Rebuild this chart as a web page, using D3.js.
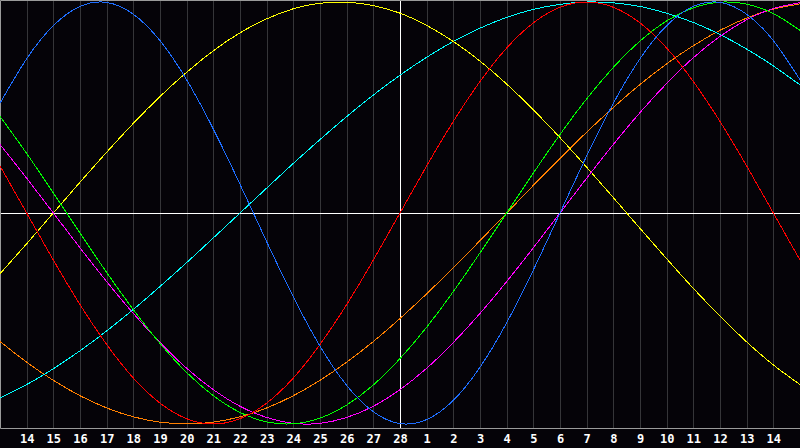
<!DOCTYPE html>
<html>
<head>
<meta charset="utf-8">
<script src="https://cdn.jsdelivr.net/npm/d3@7"></script>
<style>
    html, body { margin: 0; padding: 0; background: #050308; overflow: hidden; }
    #chart-container { width: 800px; height: 448px; }
</style>
</head>
<body>
<div id="chart-container"></div>
<script>
// Day labels under the grid lines (Feb 14 .. Mar 14)
const dayLabels = ["14", "15", "16", "17", "18", "19", "20", "21", "22", "23", "24", "25", "26", "27", "28",
    "1", "2", "3", "4", "5", "6", "7", "8", "9", "10", "11", "12", "13", "14"];

// Curve values per day (-100 .. 100), day 0 .. 30
const physical = [52.0, 73.1, 88.8, 97.9, 99.8, 94.2, 81.7, 63.1, 39.8, 13.6, -13.6, -39.8, -63.1, -81.7, -94.2,
    -99.8, -97.9, -88.8, -73.1, -52.0, -27.0, 0, 27.0, 52.0, 73.1, 88.8, 97.9, 99.8, 94.2, 81.7, 63.1];
const emotional = [22.3, 0, -22.3, -43.4, -62.3, -78.2, -90.1, -97.5, -100, -97.5, -90.1, -78.2, -62.3, -43.4, -22.3,
    0, 22.3, 43.4, 62.3, 78.2, 90.1, 97.5, 100, 97.5, 90.1, 78.2, 62.3, 43.4, 22.3, 0, -22.3];
const intellectual = [45.8, 28.2, 9.5, -9.5, -28.2, -45.8, -61.8, -75.6, -86.6, -94.5, -99.0, -99.9, -97.2, -91.0, -81.5,
    -69.0, -54.1, -37.2, -18.9, 0, 18.9, 37.2, 54.1, 69.0, 81.5, 91.0, 97.2, 99.9, 99.0, 94.5, 86.6];
const intuitive = [32.5, 16.5, 0, -16.5, -32.5, -47.6, -61.4, -73.6, -83.7, -91.6, -96.9, -99.7, -99.7, -96.9, -91.6,
    -83.7, -73.6, -61.4, -47.6, -32.5, -16.5, 0, 16.5, 32.5, 47.6, 61.4, 73.6, 83.7, 91.6, 96.9, 99.7];
const aesthetic = [-28.8, -14.6, 0, 14.6, 28.8, 42.5, 55.2, 66.7, 76.9, 85.4, 92.0, 96.8, 99.4, 99.9, 98.3,
    94.7, 88.9, 81.3, 72.0, 61.1, 48.9, 35.7, 21.7, 7.3, -7.3, -21.7, -35.7, -48.9, -61.1, -72.0, -81.3];
const awareness = [-60.9, -70.7, -79.3, -86.6, -92.4, -96.6, -99.1, -100, -99.1, -96.6, -92.4, -86.6, -79.3, -70.7, -60.9,
    -50.0, -38.3, -25.9, -13.1, 0, 13.1, 25.9, 38.3, 50.0, 60.9, 70.7, 79.3, 86.6, 92.4, 96.6, 99.1];
const spiritual = [-87.6, -81.3, -73.8, -65.3, -55.9, -45.7, -34.8, -23.5, -11.8, 0, 11.8, 23.5, 34.8, 45.7, 55.9,
    65.3, 73.8, 81.3, 87.6, 92.7, 96.5, 98.9, 100, 99.6, 97.9, 94.7, 90.3, 84.6, 77.7, 69.7, 60.7];

const seriesNames = ["awareness", "spiritual", "aesthetic", "intuitive", "intellectual", "emotional", "physical"];
const seriesValues = [awareness, spiritual, aesthetic, intuitive, intellectual, emotional, physical];
const seriesColors = ["#ff8000", "#00ffff", "#ffff00", "#ff00ff", "#00ff00", "#ff0000", "#1e6eff"];

document.addEventListener("DOMContentLoaded", function () {
    const width = 800, height = 448;
    const plotBottom = 428;

    const svg = d3.select("#chart-container")
        .append("svg")
        .attr("width", width)
        .attr("height", height)
        .style("display", "block");

    svg.append("rect")
        .attr("width", width)
        .attr("height", height)
        .attr("fill", "#050308");

    // Scales: one column per day, values -100..100
    const x = d3.scaleLinear().domain([0, 30]).range([0, width]);
    const y = d3.scaleLinear().domain([-100, 100]).range([424, 2]);

    // Vertical day grid lines
    const days = d3.range(1, dayLabels.length + 1);
    svg.selectAll(".grid")
        .data(days)
        .enter().append("line")
        .attr("class", "grid")
        .attr("x1", d => Math.round(x(d)) + 0.5)
        .attr("x2", d => Math.round(x(d)) + 0.5)
        .attr("y1", 0)
        .attr("y2", plotBottom)
        .style("stroke", d => d === 15 ? "#ffffff" : "#353538")
        .style("stroke-width", 1);

    // Zero line
    svg.append("line")
        .attr("x1", 0)
        .attr("x2", width)
        .attr("y1", Math.round(y(0)) + 0.5)
        .attr("y2", Math.round(y(0)) + 0.5)
        .style("stroke", "#ffffff");

    // Frame: top, left and bottom axis line
    svg.append("path")
        .attr("d", `M${width},0.5H0.5V${plotBottom + 0.5}H${width}`)
        .style("fill", "none")
        .style("stroke", "#9a9a9a");

    // Draw the curves
    const line = d3.line()
        .x((d, i) => x(i))
        .y(d => y(d))
        .curve(d3.curveNatural);

    svg.selectAll(".curve")
        .data(seriesValues)
        .enter().append("path")
        .attr("class", "curve")
        .attr("d", d => line(d))
        .style("fill", "none")
        .style("stroke", (d, i) => seriesColors[i])
        .style("stroke-width", 1)
        .style("shape-rendering", "crispEdges")
        .append("title")
        .text((d, i) => seriesNames[i]);

    // Bottom axis labels
    const axis = d3.axisBottom(x)
        .tickValues(days)
        .tickSize(0)
        .tickPadding(0)
        .tickFormat(d => dayLabels[d - 1]);

    const axisG = svg.append("g")
        .attr("transform", `translate(0,${plotBottom})`)
        .call(axis);

    axisG.select(".domain").remove();
    axisG.selectAll("text")
        .attr("dy", 0)
        .attr("y", 15)
        .style("fill", "#ffffff")
        .style("font-family", "'DejaVu Sans Mono', monospace")
        .style("font-weight", "bold")
        .style("font-size", "12px");
});
</script>
</body>
</html>
